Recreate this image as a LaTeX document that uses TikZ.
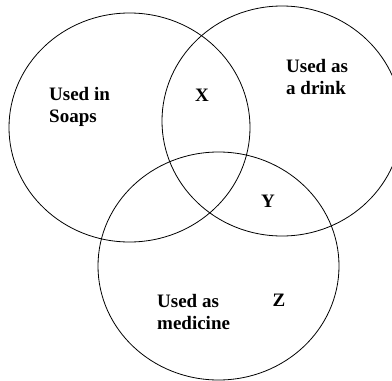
\documentclass[tikz,border=0pt]{standalone}
\usepackage{fontspec}
\setmainfont{Liberation Serif}
\usetikzlibrary{shapes.geometric}
\begin{document}
\begin{tikzpicture}[x=1pt,y=-1pt,
  setc/.style={draw=black, line width=0.8pt, ellipse, inner sep=0pt, outer sep=0pt},
  lbl/.style={font={\fontsize{19}{22.5}\selectfont\bfseries}, align=left, inner sep=0pt, anchor=north west},
  letter/.style={font={\fontsize{19}{22}\selectfont\bfseries}, inner sep=0pt}]
\useasboundingbox (0,0) rectangle (392,381);
\node[setc, minimum width=241pt, minimum height=229pt] (soaps) at (129.5,127.5) {};
\node[setc, minimum width=240pt, minimum height=230pt] (drink) at (282,121) {};
\node[setc, minimum width=241pt, minimum height=228pt] (medicine) at (218.5,266) {};
\node[lbl] (lsoaps) at (49,87) {Used in\\Soaps};
\node[lbl] (ldrink) at (286,59) {Used as\\a drink};
\node[lbl] (lmed) at (157,294) {Used as\\medicine};
\node[letter] (x) at (202,95) {X};
\node[letter] (y) at (268,201) {Y};
\node[letter] (z) at (279,300) {Z};
\end{tikzpicture}
\end{document}
